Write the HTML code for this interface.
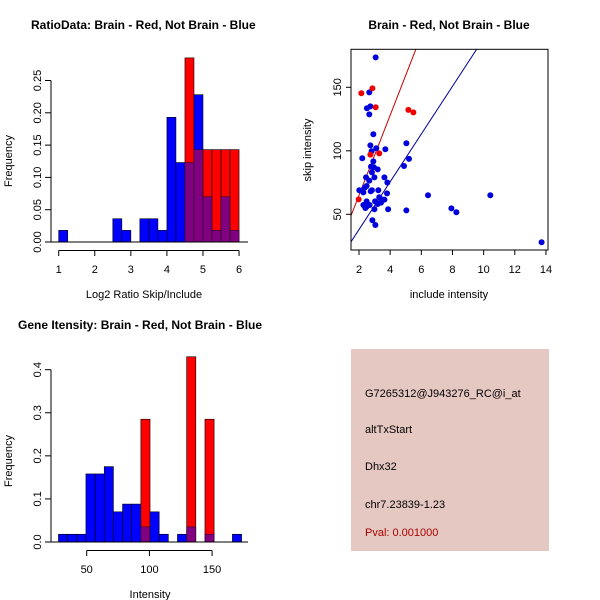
<!DOCTYPE html>
<html><head><meta charset="utf-8"><style>
html,body{margin:0;padding:0;background:#fff}
svg{display:block;font-family:"Liberation Sans",sans-serif}
</style></head><body>
<svg id="c" width="600" height="600" xmlns="http://www.w3.org/2000/svg">
<rect width="600" height="600" fill="#fff"/>
</svg>
<script>
// Panel 1: ratio histogram (bins of 0.25 starting at 1)
const ratioBinStarts = [1,1.25,1.5,1.75,2,2.25,2.5,2.75,3,3.25,3.5,3.75,4,4.25,4.5,4.75,5,5.25,5.5,5.75];
const ratioBlue = [0.018,0,0,0,0,0,0.036,0.018,0,0.036,0.036,0.018,0.193,0.123,0.123,0.228,0.07,0.018,0.07,0.018];
const ratioRed  = [0,0,0,0,0,0,0,0,0,0,0,0,0,0,0.285,0.143,0.143,0.143,0.143,0.143];
const ratioYTicks = ["0.00","0.05","0.10","0.15","0.20","0.25"];
const ratioXTicks = [1,2,3,4,5,6];
// Panel 2: scatter
const blueInc = [3.07,2.66,2.51,2.73,2.66,2.92,2.73,2.81,3.11,3.69,5.04,2.21,2.92,2.77,2.96,3.2,2.83,4.89,5.21,2.45,2.99,3.63,2.66,2.49,2.36,2.02,2.28,2.75,3.24,2.83,3.82,3.8,6.43,10.43,2.49,3.03,3.3,3.52,3.63,3.41,3.2,2.28,2.68,2.49,2.41,2.99,3.87,5.04,7.93,8.25,2.86,3.05,13.72];
const blueSkip = [173.6,146,133.5,135,128.7,113,104.3,99.6,102,101.2,105.9,94.1,91.7,87.5,87,85.4,83,88,93.6,79.1,79.1,79.1,76.5,72.3,71,68.9,67.3,68.1,68.9,68.9,75,66.5,65,65,60.2,60.2,63.4,61.6,61.6,59.2,58.1,57.3,57.3,56,55,54,54,53.1,54.7,51.6,45.3,41.6,28];
const redInc = [2.15,2.86,3.07,5.17,5.49,2.73,3.3,1.98];
const redSkip = [145.3,149.2,134.3,132.2,130.3,97,98,61.8];
const redSlope = 31.5, redIntercept = 2;
const blueSlope = 18.8, blueIntercept = 0.4;
const scXTicks = [2,4,6,8,10,12,14];
const scYTicks = [50,100,150];
// Panel 3: intensity histogram
const intBinStart = 27.5, intBinWidth = 7.3;
const intBlue = [0.018,0.018,0.018,0.158,0.158,0.175,0.07,0.088,0.088,0.035,0.07,0.018,0,0.018,0.035,0,0.018,0,0,0.018];
const intRed  = [0,0,0,0,0,0,0,0,0,0.285,0,0,0,0,0.43,0,0.285,0,0,0];
const intYTicks = ["0.0","0.1","0.2","0.3","0.4"];
const intXTicks = [50,100,150];
// Panel 4: info
const infoLines = ["G7265312@J943276_RC@i_at","altTxStart","Dhx32","chr7.23839-1.23"];
const pvalText = "Pval: 0.001000";

const svg = document.getElementById('c');
const NS = 'http://www.w3.org/2000/svg';
function mk(tag, attrs, parent, txt){
  const e = document.createElementNS(NS, tag);
  for (const k in attrs) e.setAttribute(k, attrs[k]);
  if (txt !== undefined) e.textContent = txt;
  (parent||svg).appendChild(e);
  return e;
}
function group(name){
  const g = mk('g', {});
  
  
  return g;
}
const BLUE='#0000ff', RED='#ff0000', PURP='#800080';

// ---------- Panel 1 ----------
(function(){
  const g = group('ratio-histogram');
  const sx = v => 58.7 + (v-1)*36.07;
  const sy = v => 242 - v*646;
  const t = mk('text',{x:31,y:29,'font-size':'12','font-weight':'bold'},g,'RatioData: Brain - Red, Not Brain - Blue');
  
  
  for (let i=0;i<ratioBinStarts.length;i++){
    const x0=sx(ratioBinStarts[i]), x1=sx(ratioBinStarts[i]+0.25);
    const b=ratioBlue[i], r=ratioRed[i];
    const hi=Math.max(b,r), lo=Math.min(b,r);
    if (hi>0){
      const bar=mk('rect',{x:x0,y:sy(hi),width:x1-x0,height:sy(0)-sy(hi),fill:(r>b?RED:BLUE),stroke:'#000','stroke-width':0.6},g);
      
      
    }
    if (lo>0){
      const ov=mk('rect',{x:x0,y:sy(lo),width:x1-x0,height:sy(0)-sy(lo),fill:PURP,stroke:'#300030','stroke-width':0.6},g);
      
      
    }
  }
  mk('line',{x1:49,x2:248,y1:242,y2:242,stroke:'#000','stroke-width':1},g);
  // y axis
  mk('line',{x1:51,x2:51,y1:sy(0),y2:sy(0.25),stroke:'#000'},g);
  ratioYTicks.forEach(l=>{
    const y=sy(parseFloat(l));
    mk('line',{x1:45,x2:51,y1:y,y2:y,stroke:'#000'},g);
    const tx=mk('text',{x:0,y:0,'font-size':'11','text-anchor':'middle',transform:`translate(41,${y}) rotate(-90)`},g,l);
    
    
  });
  // x axis
  mk('line',{x1:sx(1),x2:sx(6),y1:250.5,y2:250.5,stroke:'#000'},g);
  ratioXTicks.forEach(v=>{
    mk('line',{x1:sx(v),x2:sx(v),y1:250.5,y2:256,stroke:'#000'},g);
    const tx=mk('text',{x:sx(v),y:273,'font-size':'11','text-anchor':'middle'},g,String(v));
    
    
  });
  const xl=mk('text',{x:144,y:298,'font-size':'11','text-anchor':'middle'},g,'Log2 Ratio Skip/Include');
  
  
  const yl=mk('text',{x:0,y:0,'font-size':'11','text-anchor':'middle',transform:'translate(12,161) rotate(-90)'},g,'Frequency');
  
  
})();

// ---------- Panel 2 ----------
(function(){
  const g = group('intensity-scatter');
  const sx = v => 359 + (v-2)*15.58;
  const sy = v => 214.3 - (v-50)*1.27;
  const t=mk('text',{x:449,y:29,'font-size':'12','font-weight':'bold','text-anchor':'middle'},g,'Brain - Red, Not Brain - Blue');
  
  
  mk('clipPath',{id:'clp'},g);
  mk('rect',{x:351,y:49.3,width:197,height:200.7},g.lastChild);
  const cg=mk('g',{'clip-path':'url(#clp)'},g);
  const xa=1.3, xb=15;
  const rl=mk('line',{x1:sx(xa),y1:sy(redIntercept+redSlope*xa),x2:sx(xb),y2:sy(redIntercept+redSlope*xb),stroke:'#cc0000','stroke-width':1},cg);
  
  
  const bl=mk('line',{x1:sx(xa),y1:sy(blueIntercept+blueSlope*xa),x2:sx(xb),y2:sy(blueIntercept+blueSlope*xb),stroke:'#000099','stroke-width':1},cg);
  
  
  blueInc.forEach((v,i)=>{
    const c=mk('circle',{cx:sx(v),cy:sy(blueSkip[i]),r:3,fill:'#0000dd'},g);
    
    
  });
  redInc.forEach((v,i)=>{
    const c=mk('circle',{cx:sx(v),cy:sy(redSkip[i]),r:3,fill:'#ee0000'},g);
    
    
  });
  mk('rect',{x:351,y:49.3,width:197,height:200.7,fill:'none',stroke:'#000'},g);
  scXTicks.forEach(v=>{
    mk('line',{x1:sx(v),x2:sx(v),y1:250,y2:255,stroke:'#000'},g);
    const tx=mk('text',{x:sx(v),y:273,'font-size':'11','text-anchor':'middle'},g,String(v));
    
    
  });
  scYTicks.forEach(v=>{
    mk('line',{x1:346,x2:351,y1:sy(v),y2:sy(v),stroke:'#000'},g);
    const tx=mk('text',{x:0,y:0,'font-size':'11','text-anchor':'middle',transform:`translate(341,${sy(v)}) rotate(-90)`},g,String(v));
    
    
  });
  const xl=mk('text',{x:449,y:298,'font-size':'11','text-anchor':'middle'},g,'include intensity');
  
  
  const yl=mk('text',{x:0,y:0,'font-size':'11','text-anchor':'middle',transform:'translate(311,150) rotate(-90)'},g,'skip intensity');
  
  
})();

// ---------- Panel 3 ----------
(function(){
  const g = group('intensity-histogram');
  const sx = v => 86.7 + (v-50)*1.254;
  const sy = v => 542 - v*430.8;
  const t=mk('text',{x:18,y:329,'font-size':'12','font-weight':'bold'},g,'Gene Itensity: Brain - Red, Not Brain - Blue');
  
  
  for (let i=0;i<intBlue.length;i++){
    const s=intBinStart+i*intBinWidth;
    const x0=sx(s), x1=sx(s+intBinWidth);
    const b=intBlue[i], r=intRed[i];
    const hi=Math.max(b,r), lo=Math.min(b,r);
    if (hi>0){
      const bar=mk('rect',{x:x0,y:sy(hi),width:x1-x0,height:sy(0)-sy(hi),fill:(r>b?RED:BLUE),stroke:'#000','stroke-width':0.6},g);
      
      
    }
    if (lo>0){
      const ov=mk('rect',{x:x0,y:sy(lo),width:x1-x0,height:sy(0)-sy(lo),fill:PURP,stroke:'#300030','stroke-width':0.6},g);
      
      
    }
  }
  mk('line',{x1:49,x2:248,y1:542,y2:542,stroke:'#000'},g);
  mk('line',{x1:51,x2:51,y1:sy(0),y2:sy(0.4),stroke:'#000'},g);
  intYTicks.forEach(l=>{
    const y=sy(parseFloat(l));
    mk('line',{x1:45,x2:51,y1:y,y2:y,stroke:'#000'},g);
    const tx=mk('text',{x:0,y:0,'font-size':'11','text-anchor':'middle',transform:`translate(41,${y}) rotate(-90)`},g,l);
    
    
  });
  mk('line',{x1:sx(50),x2:sx(150),y1:550.5,y2:550.5,stroke:'#000'},g);
  intXTicks.forEach(v=>{
    mk('line',{x1:sx(v),x2:sx(v),y1:550.5,y2:556,stroke:'#000'},g);
    const tx=mk('text',{x:sx(v),y:573,'font-size':'11','text-anchor':'middle'},g,String(v));
    
    
  });
  const xl=mk('text',{x:150,y:598,'font-size':'11','text-anchor':'middle'},g,'Intensity');
  
  
  const yl=mk('text',{x:0,y:0,'font-size':'11','text-anchor':'middle',transform:'translate(12,461) rotate(-90)'},g,'Frequency');
  
  
})();

// ---------- Panel 4 ----------
(function(){
  const g = group('info-panel');
  mk('rect',{x:351,y:349,width:198,height:202,fill:'#e6c8c2'},g);
  const ys=[397,433,470,508];
  infoLines.forEach((l,i)=>{
    const tx=mk('text',{x:365,y:ys[i],'font-size':'11',fill:'#000'},g,l);
    
    
  });
  const p=mk('text',{x:365,y:536,'font-size':'11',fill:'#aa0000'},g,pvalText);
  
  
})();
</script>
</body></html>
